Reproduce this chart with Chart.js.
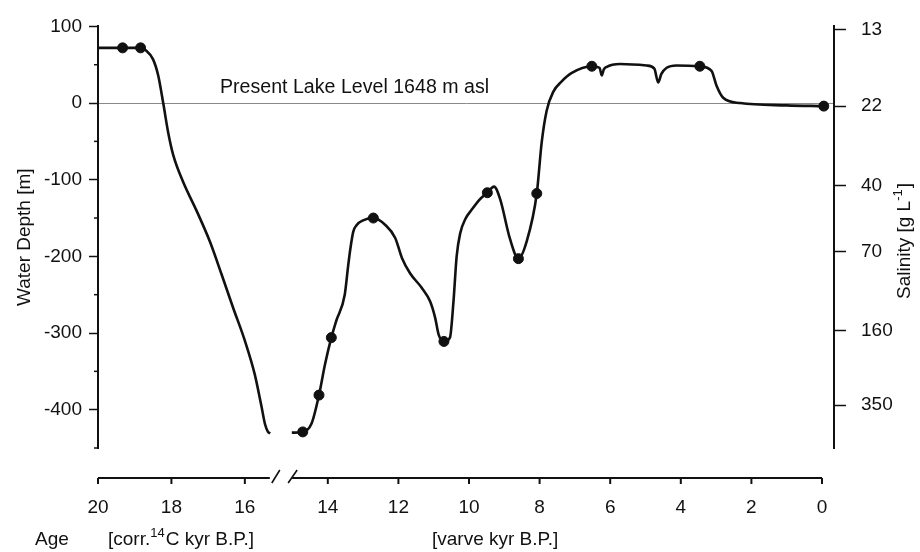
<!DOCTYPE html>
<html>
<head>
<meta charset="utf-8">
<script src="https://cdn.jsdelivr.net/npm/chart.js@4.4.1/dist/chart.umd.min.js"></script>
<style>
  html, body { margin: 0; padding: 0; background: #fff; }
  #wrap { width: 920px; height: 552px; }
</style>
</head>
<body>
<div id="wrap"><canvas id="lakeChart" width="920" height="552"></canvas></div>
<script>
// older part, corr. 14C kyr B.P.
const ageC14 = [20.0, 19.33, 18.84, 18.70, 18.50, 18.36, 18.22, 18.09, 17.95, 17.68, 17.31, 16.95, 16.63, 16.32, 16.00, 15.73, 15.55, 15.45, 15.37, 15.31];
const depthC14 = [72, 72, 72, 69, 57, 36, -1, -38, -68, -103, -141, -181, -224, -267, -310, -354, -395, -419, -429, -431];

// younger part, varve kyr B.P.
const ageVarve = [15.02, 14.71, 14.46, 14.25, 14.08, 13.90, 13.76, 13.52, 13.43, 13.37, 13.28, 13.18, 13.00, 12.71, 12.37, 12.09, 11.90, 11.67, 11.34, 11.10, 10.96, 10.86, 10.71, 10.54, 10.44, 10.35, 10.25, 10.10, 9.92, 9.70, 9.48, 9.29, 9.12, 8.84, 8.60, 8.37, 8.08, 7.94, 7.80, 7.61, 7.38, 7.10, 6.52, 6.30, 6.24, 6.18, 6.11, 5.72, 4.97, 4.75, 4.64, 4.55, 4.40, 4.12, 3.46, 3.13, 2.99, 2.80, 2.32, 1.0, -0.05];
const depthVarve = [-430, -429, -418, -381, -341, -306, -284, -250, -215, -193, -168, -159, -153, -150, -159, -176, -202, -222, -241, -259, -280, -302, -311, -306, -259, -200, -170, -151, -139, -126, -117, -109, -125, -177, -203, -181, -118, -51, -10, 15, 28, 39, 48, 46, 36, 44, 47, 51, 49, 45, 27, 38, 46, 49, 48, 42, 23, 7, 0, -3, -4];

// dated samples (dots)
const dotAgeC14 = [19.33, 18.84];
const dotDepthC14 = [72, 72];
const dotAgeVarve = [14.71, 14.25, 13.90, 12.71, 10.71, 9.48, 8.60, 8.08, 6.52, 3.46, -0.05];
const dotDepthVarve = [-429, -381, -306, -150, -311, -117, -203, -118, 48, 48, -4];

// axis ticks
const xTicksC14 = [20, 18, 16];
const xTicksVarve = [14, 12, 10, 8, 6, 4, 2, 0];
const depthTicks = [-400, -300, -200, -100, 0, 100];
const salinityLabels = ['13', '22', '40', '70', '160', '350'];
const salinityAtDepth = [96, -4, -108, -194, -297, -394];

// the 14C part of the time axis sits left of the break, slightly stretched
function c14ToAxis(age) { return 16.35 + (age - 16) * 1.04; }

const FONT = '19px "Liberation Sans", Arial, sans-serif';
const SUP_FONT = '13px "Liberation Sans", Arial, sans-serif';
const INK = '#111';

const toPts = (xs, ys, f) => xs.map((x, i) => ({ x: f ? f(x) : x, y: ys[i] }));

const xTickPos = xTicksC14.map(c14ToAxis).concat(xTicksVarve);
const xTickText = xTicksC14.concat(xTicksVarve).map(String);

const decorPlugin = {
  id: 'decor',
  afterDraw(chart) {
    const ctx = chart.ctx;
    const xs = chart.scales.x, ys = chart.scales.y;
    const area = chart.chartArea;
    ctx.save();
    ctx.strokeStyle = INK;
    ctx.fillStyle = INK;

    // minor ticks on depth axis
    ctx.lineWidth = 1.5;
    for (let v = ys.min; v <= ys.max; v += 50) {
      if (v % 100 === 0) continue;
      const py = ys.getPixelForValue(v);
      ctx.beginPath(); ctx.moveTo(area.left, py); ctx.lineTo(area.left - 4, py); ctx.stroke();
    }

    // broken time axis, set off below the plot
    const ay = 478;
    const leftA = xs.getPixelForValue(c14ToAxis(20));
    const leftB = xs.getPixelForValue(c14ToAxis(15.32));
    const rightA = xs.getPixelForValue(15.01);
    const rightB = xs.getPixelForValue(0);
    ctx.lineWidth = 2;
    ctx.beginPath();
    ctx.moveTo(leftA, ay); ctx.lineTo(leftB, ay);
    ctx.moveTo(rightA, ay); ctx.lineTo(rightB, ay);
    ctx.stroke();
    ctx.lineWidth = 1.6;
    ctx.beginPath();
    ctx.moveTo(leftB + 2, ay + 5); ctx.lineTo(leftB + 10, ay - 8);
    ctx.moveTo(rightA - 4, ay + 5); ctx.lineTo(rightA + 5, ay - 8);
    ctx.stroke();
    ctx.lineWidth = 2;
    xs.ticks.forEach(t => {
      const px = xs.getPixelForValue(t.value);
      ctx.beginPath(); ctx.moveTo(px, ay); ctx.lineTo(px, ay + 6); ctx.stroke();
    });

    // texts
    ctx.font = '19.6px "Liberation Sans", Arial, sans-serif';
    ctx.textBaseline = 'alphabetic';
    ctx.textAlign = 'left';
    ctx.fillText('Present Lake Level 1648 m asl', 220, 93);

    ctx.font = FONT;
    ctx.textBaseline = 'middle';
    ctx.fillText('Age', 35, 540);
    drawSup(ctx, ['[corr.', '14', 'C kyr B.P.]'], 108, 540);
    ctx.fillText('[varve kyr B.P.]', 432, 540);

    ctx.save();
    ctx.translate(25, (area.top + area.bottom) / 2);
    ctx.rotate(-Math.PI / 2);
    ctx.textAlign = 'center';
    ctx.fillText('Water Depth [m]', 0, 0);
    ctx.restore();

    ctx.save();
    ctx.translate(905, 241);
    ctx.rotate(-Math.PI / 2);
    const parts = ['Salinity [g L', '-1', ']'];
    const w = measureSup(ctx, parts);
    drawSup(ctx, parts, -w / 2, 0);
    ctx.restore();

    ctx.restore();
  }
};

function measureSup(ctx, parts) {
  ctx.font = FONT;
  let w = ctx.measureText(parts[0]).width + ctx.measureText(parts[2]).width;
  ctx.font = SUP_FONT;
  w += ctx.measureText(parts[1]).width + 1;
  ctx.font = FONT;
  return w;
}

function drawSup(ctx, parts, x, y) {
  ctx.textAlign = 'left';
  ctx.font = FONT;
  ctx.fillText(parts[0], x, y);
  x += ctx.measureText(parts[0]).width;
  ctx.font = SUP_FONT;
  ctx.fillText(parts[1], x, y - 7);
  x += ctx.measureText(parts[1]).width + 1;
  ctx.font = FONT;
  ctx.fillText(parts[2], x, y);
}

const lineStyle = {
  type: 'line',
  borderColor: INK,
  borderWidth: 2.6,
  pointRadius: 0,
  cubicInterpolationMode: 'monotone',
  fill: false
};

const dotStyle = {
  type: 'scatter',
  backgroundColor: INK,
  borderColor: INK,
  pointRadius: 5,
  pointHoverRadius: 5,
  showLine: false
};

new Chart(document.getElementById('lakeChart'), {
  data: {
    datasets: [
      Object.assign({ data: toPts(ageC14, depthC14, c14ToAxis) }, lineStyle),
      Object.assign({ data: toPts(ageVarve, depthVarve) }, lineStyle),
      Object.assign({ data: toPts(dotAgeC14, dotDepthC14, c14ToAxis) }, dotStyle),
      Object.assign({ data: toPts(dotAgeVarve, dotDepthVarve) }, dotStyle)
    ]
  },
  options: {
    responsive: false,
    animation: false,
    layout: { padding: { top: 24, left: 0, right: 0, bottom: 0 } },
    plugins: { legend: { display: false }, tooltip: { enabled: false } },
    scales: {
      x: {
        type: 'linear',
        reverse: true,
        min: -0.34,
        max: 20.51,
        afterBuildTicks: s => { s.ticks = xTickPos.map(v => ({ value: v })); },
        afterFit: s => { s.height = 104; },
        grid: { display: false, drawTicks: false },
        border: { display: false },
        ticks: {
          autoSkip: false,
          maxRotation: 0,
          padding: 48,
          color: INK,
          font: { family: '"Liberation Sans", Arial', size: 19 },
          callback: (v, i) => xTickText[i]
        }
      },
      y: {
        type: 'linear',
        position: 'left',
        min: -450,
        max: 100,
        afterBuildTicks: s => { s.ticks = depthTicks.map(v => ({ value: v })); },
        afterFit: s => { s.width = 98; },
        grid: {
          color: c => (c.tick && c.tick.value === 0 ? '#8a8a8a' : 'rgba(0,0,0,0)'),
          lineWidth: 1,
          tickColor: INK,
          tickLength: 9,
          tickWidth: 1.5
        },
        border: { display: true, color: INK, width: 2 },
        ticks: {
          padding: 7,
          color: INK,
          font: { family: '"Liberation Sans", Arial', size: 19 },
          callback: v => String(v)
        }
      },
      y2: {
        type: 'linear',
        position: 'right',
        min: -450,
        max: 100,
        afterBuildTicks: s => { s.ticks = salinityAtDepth.map(v => ({ value: v })); },
        afterFit: s => { s.width = 86; },
        grid: { drawOnChartArea: false, tickColor: INK, tickLength: 12, tickWidth: 1.5 },
        border: { display: true, color: INK, width: 2 },
        ticks: {
          padding: 15,
          color: INK,
          font: { family: '"Liberation Sans", Arial', size: 19 },
          callback: (v, i) => salinityLabels[i]
        }
      }
    }
  },
  plugins: [decorPlugin]
});
</script>
</body>
</html>
